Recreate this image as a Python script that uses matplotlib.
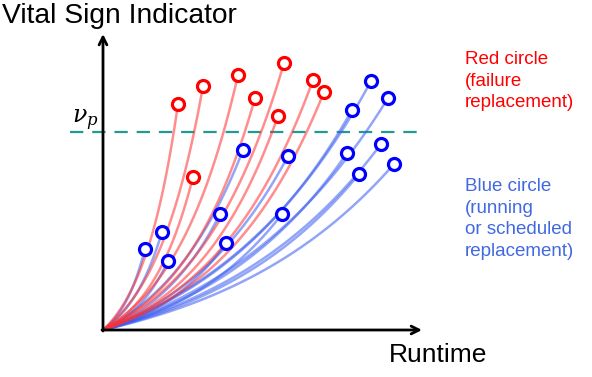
import numpy as np
import matplotlib.pyplot as plt

# end points of each degradation path (runtime, indicator) and growth rate
red_t = [75, 100, 135, 181, 210, 221, 152, 175, 90]
red_v = [226, 244, 255, 267, 250, 238, 232, 214, 153]
red_k = [2.0, 2.0, 2.0, 2.0, 2.0, 2.0, 2.0, 2.0, 2.0]

blue_t = [42, 59, 65, 117, 123, 140, 179, 185, 244, 249, 268, 285, 278, 256, 291]
blue_v = [81, 98, 69, 116, 87, 180, 116, 174, 177, 220, 249, 232, 186, 156, 166]
blue_k = [1.6] * 15

v_p = 198

RED = "#ff0000"
BLUE = "#0000ff"


def path(T, V, k, n=80):
    s = np.linspace(0, 1, n)
    return T * s, V * np.expm1(k * s) / np.expm1(k)


plt.rcParams["font.family"] = ["Liberation Sans", "DejaVu Sans"]
fig = plt.figure(figsize=(5.92, 3.77), dpi=100)
ax = fig.add_axes([0, 0, 1, 1])
ax.set_xlim(-103, 489)
ax.set_ylim(-47, 330)
ax.axis("off")

for T, V, k in zip(blue_t, blue_v, blue_k):
    x, y = path(T, V, k)
    ax.plot(x, y, color="#3a5cf0", alpha=0.55, lw=1.8, zorder=2)
for T, V, k in zip(red_t, red_v, red_k):
    x, y = path(T, V, k)
    ax.plot(x, y, color="#ff3030", alpha=0.55, lw=1.8, zorder=2)

ax.scatter(red_t, red_v, s=75, facecolor="white", edgecolor=RED, lw=2.3, zorder=4)
ax.scatter(blue_t, blue_v, s=75, facecolor="white", edgecolor=BLUE, lw=2.3, zorder=4)

# axes with arrows
arr = dict(arrowstyle="->", lw=2, color="black", mutation_scale=14, shrinkA=0, shrinkB=0)
ax.annotate("", xy=(0, 296), xytext=(0, -1), arrowprops=arr, zorder=3)
ax.annotate("", xy=(319, 0), xytext=(-1, 0), arrowprops=arr, zorder=3)

ax.plot([-33, 322], [v_p, v_p], color="#1f9a96", lw=1.6, dashes=(6, 4), zorder=1)
ax.text(-4, 210, r"$\nu_p$", fontsize=17, ha="right", va="center",
        math_fontfamily="dejavuserif")

ax.text(-101, 314, "Vital Sign Indicator", fontsize=20.3, ha="left", va="center")
ax.text(286, -25, "Runtime", fontsize=19, ha="left", va="center")

ax.text(362, 249, "Red circle\n(failure\nreplacement)", color=RED, fontsize=13.5,
        ha="left", va="center", linespacing=1.38)
ax.text(362, 111, "Blue circle\n(running\nor scheduled\nreplacement)", color="#4169e1",
        fontsize=13.5, ha="left", va="center", linespacing=1.38)

fig.savefig("out.png", dpi=100)
